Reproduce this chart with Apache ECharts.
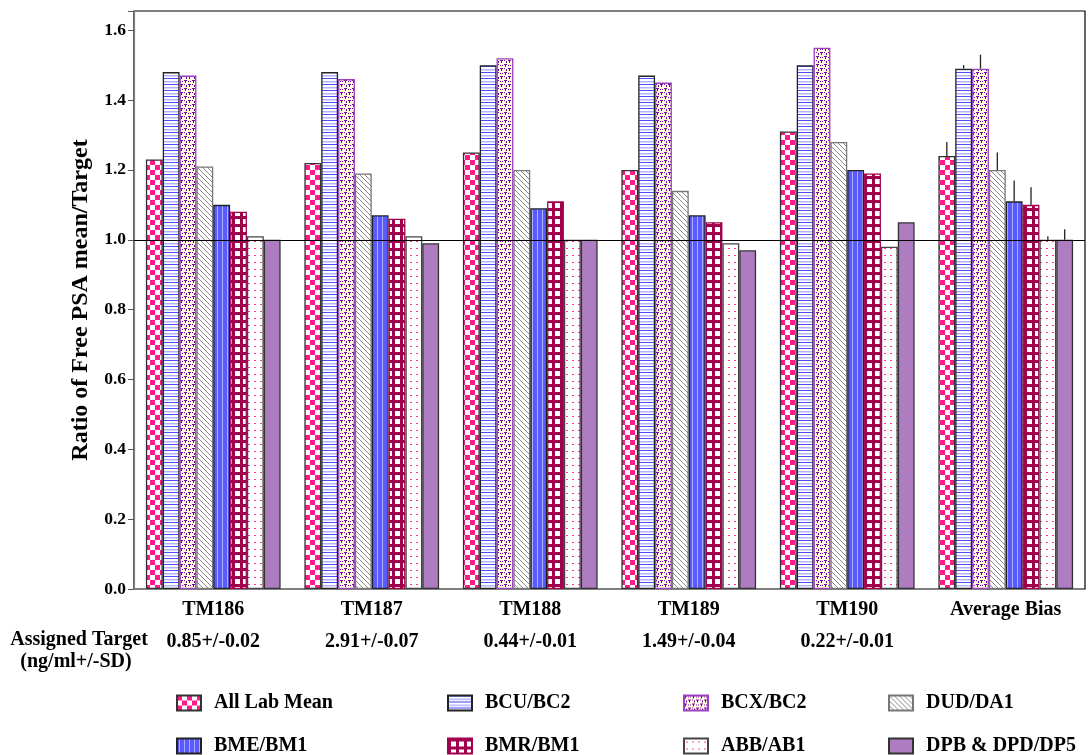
<!DOCTYPE html>
<html><head><meta charset="utf-8">
<script src="https://cdn.jsdelivr.net/npm/echarts@6/dist/echarts.min.js"></script>
<style>html,body{margin:0;padding:0;background:#fff}#c{width:1089px;height:755px}</style>
</head><body><div id="c"></div>
<script>
const categories = ['TM186','TM187','TM188','TM189','TM190','Average Bias'];
const targets = ['0.85+/-0.02','2.91+/-0.07','0.44+/-0.01','1.49+/-0.04','0.22+/-0.01',''];
const seriesNames = ['All Lab Mean','BCU/BC2','BCX/BC2','DUD/DA1','BME/BM1','BMR/BM1','ABB/AB1','DPB & DPD/DP5'];
const allLabMean = [1.23,1.22,1.25,1.20,1.31,1.24];
const bcuBc2     = [1.48,1.48,1.50,1.47,1.50,1.49];
const bcxBc2     = [1.47,1.46,1.52,1.45,1.55,1.49];
const dudDa1     = [1.21,1.19,1.20,1.14,1.28,1.20];
const bmeBm1     = [1.10,1.07,1.09,1.07,1.20,1.11];
const bmrBm1     = [1.08,1.06,1.11,1.05,1.19,1.10];
const abbAb1     = [1.01,1.01,1.00,0.99,0.98,1.00];
const dpbDp5     = [1.00,0.99,1.00,0.97,1.05,1.00];
const avgBiasErr = [0.04,0.01,0.04,0.05,0.06,0.05,0.01,0.03];
const yMin = 0, yMax = 1.655, yStep = 0.2;

const values = [allLabMean,bcuBc2,bcxBc2,dudDa1,bmeBm1,bmrBm1,abbAb1,dpbDp5];
const FONT = "'Liberation Serif','Times New Roman',serif";

function tile(w,h,draw){const c=document.createElement('canvas');c.width=w;c.height=h;const g=c.getContext('2d');draw(g);return c;}
const pat = [
  tile(10,10,g=>{g.fillStyle='#fff';g.fillRect(0,0,10,10);g.fillStyle='#ff1a8c';g.fillRect(0,0,5,5);g.fillRect(5,5,5,5);}),
  tile(6,6,g=>{g.fillStyle='#fff';g.fillRect(0,0,6,6);g.fillStyle='#4d4dff';g.fillRect(0,0,6,1);g.fillStyle='#b3b3ff';g.fillRect(0,3,6,1.5);}),
  tile(8,8,g=>{g.fillStyle='#ffffe0';g.fillRect(0,0,8,8);g.fillStyle='#7800aa';
     g.fillRect(0,0,3,1);g.fillRect(1,1,1,2);g.fillRect(4,4,3,1);g.fillRect(5,5,1,2);g.fillRect(6,1,1,1);g.fillRect(2,5,1,2);g.fillRect(4,1,1,1);g.fillRect(0,4,1,1);}),
  tile(5,5,g=>{g.fillStyle='#fff';g.fillRect(0,0,5,5);g.fillStyle='#8a8a8a';for(let i=0;i<5;i++)g.fillRect(i,i,1,1);}),
  tile(5,5,g=>{g.fillStyle='#5a5aff';g.fillRect(0,0,5,5);g.fillStyle='#aab0ff';g.fillRect(2,0,1,5);}),
  tile(8,8,g=>{g.fillStyle='#fff';g.fillRect(0,0,8,8);g.fillStyle='#a0004c';g.fillRect(0,0,8,3);g.fillRect(0,0,3,8);}),
  tile(6,7,g=>{g.fillStyle='#fff';g.fillRect(0,0,6,7);g.fillStyle='#ff3399';g.fillRect(2,3,2,1);}),
  null
];
const fills = pat.map(p=>p?{image:p,repeat:'repeat'}:'#ae7cc0');
const borders = ['#333','#222','#9a40c0','#777','#222','#a0004c','#444','#333'];

const series = seriesNames.map((n,i)=>({
  name:n, type:'bar', data:values[i], barGap:0, barCategoryGap:'15%',
  itemStyle:{color:fills[i], borderColor:borders[i], borderWidth:1.3},
  emphasis:{disabled:true}
}));
const errData = seriesNames.map((n,i)=>[5, i, values[i][5], avgBiasErr[i]]);
series.push({
  type:'custom', data:errData, z:5, encode:{x:0,y:2}, silent:true,
  renderItem:(params,api)=>{
    const b=api.coord([api.value(0),api.value(2)]);
    const t=api.coord([api.value(0),api.value(2)+api.value(3)]);
    const band=api.size([1,0])[0]; const bw=band*0.85/8;
    const x=b[0]-4*bw+(api.value(1)+0.5)*bw;
    return {type:'line',shape:{x1:x,y1:b[1],x2:x,y2:t[1]},style:{stroke:'#222',lineWidth:1.3}};
  },
  markLine:{silent:true,symbol:'none',label:{show:false},lineStyle:{color:'#000',width:1.2,type:'solid'},data:[{yAxis:1.0}]}
});

const colX=[176,447,683,888], rowY=[693,736];
const legends = seriesNames.map((n,i)=>({
  data:[n], left:colX[i%4], top:rowY[Math.floor(i/4)], padding:0, itemWidth:24, itemHeight:15,
  icon:'rect', selectedMode:false,
  textStyle:{fontFamily:FONT,fontWeight:'bold',fontSize:20,color:'#000',padding:[0,0,0,8]}
}));

const isTick = v => Math.abs(v/yStep - Math.round(v/yStep)) < 1e-6;

const chart = echarts.init(document.getElementById('c'));
chart.setOption({
  animation:false,
  backgroundColor:'#fff',
  grid:{left:134,right:4,top:11,bottom:166,show:true,borderColor:'#000',borderWidth:1.2},
  legend:legends,
  xAxis:{type:'category',data:categories,boundaryGap:true,
    axisLine:{lineStyle:{color:'#808080',width:1.2}},
    axisTick:{alignWithLabel:true,length:6,lineStyle:{color:'#333'}},
    axisLabel:{margin:9,interval:0,
      formatter:(v,i)=>'{a|'+v+'}\n{b|'+targets[i]+'}',
      rich:{a:{fontFamily:FONT,fontWeight:'bold',fontSize:20,color:'#000',lineHeight:24},
            b:{fontFamily:FONT,fontWeight:'bold',fontSize:20,color:'#000',lineHeight:40}}}},
  yAxis:{type:'value',min:yMin,max:yMax,interval:yStep,
    name:'Ratio of Free PSA mean/Target',nameLocation:'middle',nameGap:40,nameRotate:90,
    nameTextStyle:{fontFamily:FONT,fontWeight:'bold',fontSize:24,color:'#000'},
    splitLine:{show:false},
    axisLine:{show:true,lineStyle:{color:'#808080',width:1.2}},
    axisTick:{show:true,length:6,lineStyle:{color:'#555'}},
    axisLabel:{margin:8,fontFamily:FONT,fontWeight:'bold',fontSize:17.5,color:'#000',
      formatter:v=>isTick(v)?v.toFixed(1):''}},
  graphic:[
    {type:'text',style:{text:'Assigned Target',fontFamily:FONT,fontWeight:'bold',fontSize:20,fill:'#000',align:'center',verticalAlign:'middle',x:79,y:640}},
    {type:'text',style:{text:'(ng/ml+/-SD)',fontFamily:FONT,fontWeight:'bold',fontSize:20,fill:'#000',align:'center',verticalAlign:'middle',x:76,y:662}}
  ],
  series:series
});
</script></body></html>
